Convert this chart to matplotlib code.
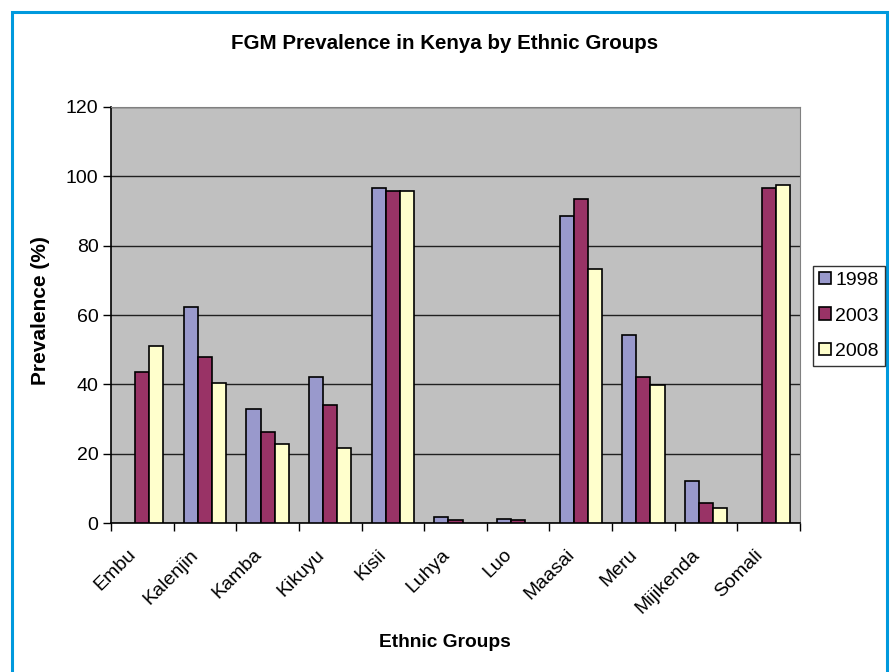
import numpy as np
import matplotlib
matplotlib.use('Agg')
import matplotlib.pyplot as plt
from matplotlib.patches import Rectangle

plt.rcParams['font.family'] = ['Liberation Sans', 'DejaVu Sans']

groups = ['Embu', 'Kalenjin', 'Kamba', 'Kikuyu', 'Kisii', 'Luhya', 'Luo',
          'Maasai', 'Meru', 'Mijikenda', 'Somali']
years = ['1998', '2003', '2008']
v1998 = [0, 62.2, 32.9, 42.2, 96.6, 1.6, 1.2, 88.5, 54.1, 12.2, 0]
v2003 = [43.5, 47.9, 26.3, 34.1, 95.9, 0.9, 0.9, 93.5, 42.2, 5.8, 96.6]
v2008 = [51.2, 40.3, 22.8, 21.6, 95.9, 0, 0, 73.2, 39.8, 4.4, 97.5]
colors = ['#9999CC', '#993366', '#FFFFCC']

fig = plt.figure(figsize=(8.9, 6.72), dpi=100)
ax = fig.add_axes([0.1247, 0.2217, 0.7742, 0.6191])
ax.set_facecolor('#C0C0C0')

x = np.arange(len(groups))
w = 0.225
for i, (vals, c, lab) in enumerate(zip([v1998, v2003, v2008], colors, years)):
    vals = np.array(vals, dtype=float)
    mask = vals > 0
    ax.bar(x[mask] + (i - 1) * w, vals[mask], w, color=c, edgecolor='black',
           linewidth=1.2, label=lab, zorder=3)

ax.set_xlim(-0.5, len(groups) - 0.5)
ax.set_ylim(0, 120)
ax.set_yticks(np.arange(0, 121, 20))
ax.yaxis.grid(True, color='#202020', linewidth=1, zorder=1)
ax.set_axisbelow(True)

# category ticks sit between groups; labels (invisible minor ticks) end just left of centre
ax.set_xticks(np.arange(-0.5, len(groups), 1))
ax.set_xticklabels([])
ax.set_xticks(x - 0.14, minor=True)
ax.set_xticklabels(groups, minor=True, rotation=45, ha='right', va='center',
                   rotation_mode='anchor', fontsize=14)
ax.tick_params(axis='x', which='minor', length=0, pad=21)
ax.tick_params(axis='x', which='major', length=6, direction='out', width=1)
ax.tick_params(axis='y', length=6, direction='out', width=1, labelsize=14, pad=3)

for s in ['top', 'right']:
    ax.spines[s].set_color('#808080')
for s in ['left', 'bottom']:
    ax.spines[s].set_color('black')
    ax.spines[s].set_linewidth(1.2)

fig.text(0.5, 0.935, 'FGM Prevalence in Kenya by Ethnic Groups', ha='center',
         va='center', fontsize=14.8, fontweight='bold')
fig.text(0.5, 0.0446, 'Ethnic Groups', ha='center', va='center',
         fontsize=13.8, fontweight='bold')
fig.text(0.045, 0.538, 'Prevalence (%)', ha='center', va='center',
         rotation=90, fontsize=15, fontweight='bold')

leg = fig.legend(loc='center left', bbox_to_anchor=(813 / 890, 1 - 316 / 672),
                 fontsize=14, frameon=True, fancybox=False, handlelength=0.6,
                 handleheight=0.6, handletextpad=0.25, borderpad=0.3,
                 labelspacing=0.95, borderaxespad=0)
leg.get_frame().set_edgecolor('black')
leg.get_frame().set_linewidth(1)

# blue chart-area frame
fig.patches.append(Rectangle((12 / 890, -0.05), 876 / 890 - 0.001, 1 - 12 / 672 + 0.05,
                             transform=fig.transFigure, fill=False,
                             edgecolor='#0099DD', linewidth=2.2))

fig.savefig('out.png', dpi=100)
